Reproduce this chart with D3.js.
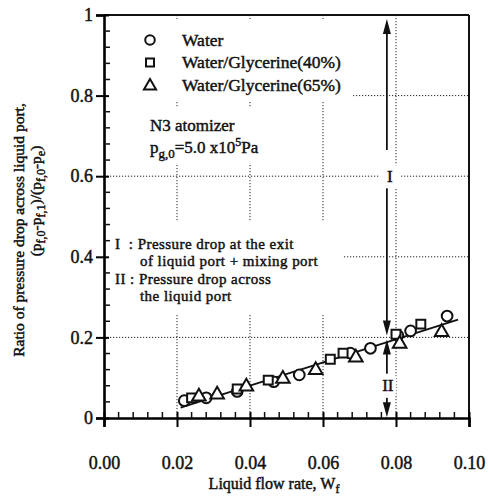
<!DOCTYPE html>
<html>
<head>
<meta charset="utf-8">
<script src="https://cdn.jsdelivr.net/npm/d3@7"></script>
<style>
  body { margin: 0; background: #fff; }
  svg text { font-family: "Liberation Serif", "Times New Roman", serif; fill: #111; stroke: #111; stroke-width: 0.45px; }
</style>
</head>
<body>
<div id="chart"></div>
<script>
// data
const waterX = [0.022, 0.028, 0.0365, 0.0465, 0.0535, 0.0675, 0.073, 0.0805, 0.084, 0.094];
const waterY = [0.043, 0.050, 0.066, 0.090, 0.107, 0.161, 0.173, 0.205, 0.216, 0.253];
const gly40X = [0.024, 0.0365, 0.045, 0.062, 0.0655, 0.080, 0.0868];
const gly40Y = [0.050, 0.072, 0.094, 0.146, 0.161, 0.208, 0.233];
const gly65X = [0.026, 0.031, 0.039, 0.049, 0.058, 0.069, 0.081, 0.0925];
const gly65Y = [0.053, 0.058, 0.078, 0.097, 0.119, 0.150, 0.184, 0.213];
const fitX = [0.021, 0.097];
const fitY = [0.026, 0.244];

const xTicks = [0, 0.02, 0.04, 0.06, 0.08, 0.10];
const xTickLabels = ["0.00", "0.02", "0.04", "0.06", "0.08", "0.10"];
const yTicks = [0, 0.2, 0.4, 0.6, 0.8, 1];
const yTickLabels = ["0", "0.2", "0.4", "0.6", "0.8", "1"];
const seriesNames = ["Water", "Water/Glycerine(40%)", "Water/Glycerine(65%)"];

const arrowX = 0.0775;

const W = 488, H = 498;
const svg = d3.select("#chart").append("svg").attr("width", W).attr("height", H);

const x = d3.scaleLinear().domain([0, 0.1]).range([104, 469]);
const y = d3.scaleLinear().domain([0, 1]).range([418, 15]);

// dotted grid
const grid = svg.append("g").attr("stroke", "#222").attr("stroke-width", 1).attr("stroke-dasharray", "1.2,1.8");
grid.selectAll("line.v").data(xTicks.slice(1, -1)).join("line")
    .attr("x1", d => x(d)).attr("x2", d => x(d)).attr("y1", y(1)).attr("y2", y(0));
grid.selectAll("line.h").data(yTicks.slice(1, -1)).join("line")
    .attr("x1", x(0)).attr("x2", x(0.1)).attr("y1", d => y(d)).attr("y2", d => y(d));

const notes = svg.append("g");

// text block with a white patch under it that hides the grid
function block(lines, pad) {
    const g = notes.append("g");
    const t = g.append("g");
    lines(t);
    const b = t.node().getBBox();
    g.insert("rect", ":first-child")
        .attr("x", b.x - pad[3]).attr("y", b.y - pad[0])
        .attr("width", b.width + pad[1] + pad[3]).attr("height", b.height + pad[0] + pad[2])
        .attr("fill", "#fff");
    return g;
}

const symSize = { circle: 90, square: 80, triangle: 80 };
const symType = { circle: d3.symbolCircle, square: d3.symbolSquare, triangle: d3.symbolTriangle };
const kinds = ["circle", "square", "triangle"];

// legend
block(t => {
    seriesNames.forEach((name, i) => {
        const cy = 40 + i * 22.5;
        t.append("path")
            .attr("d", d3.symbol(symType[kinds[i]], symSize[kinds[i]] * 0.8)())
            .attr("transform", `translate(150,${cy + (i === 2 ? 1 : 0)})`)
            .attr("fill", "#fff").attr("stroke", "#111").attr("stroke-width", 2);
        t.append("text").attr("x", 182).attr("y", cy + 5.5)
            .attr("font-size", 17.5).text(name);
    });
}, [10, 12, 6, 46]);

// atomizer conditions
block(t => {
    t.append("text").attr("x", 150).attr("y", 131).attr("font-size", 17).text("N3 atomizer");
    const p = t.append("text").attr("x", 150).attr("y", 153).attr("font-size", 17);
    p.append("tspan").text("p");
    p.append("tspan").attr("font-size", 13).attr("dy", 5).text("g,0");
    p.append("tspan").attr("dy", -5).text("=5.0 x10");
    p.append("tspan").attr("font-size", 12).attr("dy", -7).text("5");
    p.append("tspan").attr("dy", 7).text("Pa");
}, [8, 4, 2, 4]);

// explanation of I and II
block(t => {
    const rows = [
        [115, 248.5, "I  : Pressure drop at the exit"],
        [140, 266, "of liquid port + mixing port"],
        [115, 283.5, "II : Pressure drop across"],
        [140, 301, "the liquid port"]
    ];
    rows.forEach(r => t.append("text").attr("x", r[0]).attr("y", r[1])
        .attr("font-size", 15).attr("letter-spacing", 0.45)
        .attr("xml:space", "preserve").text(r[2]));
}, [14, 24, 10, 10]);

// labels on the arrows
block(t => {
    t.append("text").attr("x", x(arrowX) + 3).attr("y", y(0.6) + 6).attr("text-anchor", "middle")
        .attr("font-size", 17).text("I");
}, [2, 8, 2, 8]);
block(t => {
    t.append("text").attr("x", x(arrowX) + 1).attr("y", y(0.068)).attr("text-anchor", "middle")
        .attr("font-size", 17).text("II");
}, [0, 2, 0, 2]);

// fitted line
svg.append("line")
    .attr("x1", x(fitX[0])).attr("y1", y(fitY[0]))
    .attr("x2", x(fitX[1])).attr("y2", y(fitY[1]))
    .attr("stroke", "#111").attr("stroke-width", 1.8);

// arrows
const arrows = [
    [0.665, 0.99], [0.57, 0.205], [0.11, 0.195], [0.05, 0.002]
];
const ag = svg.append("g");
arrows.forEach(a => {
    const x0 = x(arrowX), ya = y(a[0]), yb = y(a[1]);
    const dir = yb < ya ? -1 : 1;
    ag.append("line").attr("x1", x0).attr("x2", x0).attr("y1", ya).attr("y2", yb - dir * 10)
        .attr("stroke", "#111").attr("stroke-width", 1.8);
    ag.append("path")
        .attr("d", `M${x0},${yb} L${x0 - 4},${yb - dir * 15} L${x0 + 4},${yb - dir * 15} Z`)
        .attr("fill", "#111");
});

// markers
const series = [
    { kind: "circle", xs: waterX, ys: waterY },
    { kind: "square", xs: gly40X, ys: gly40Y },
    { kind: "triangle", xs: gly65X, ys: gly65Y }
];
series.forEach(s => {
    svg.append("g").selectAll("path")
        .data(s.xs.map((v, i) => [v, s.ys[i]]))
        .join("path")
        .attr("d", d3.symbol(symType[s.kind], symSize[s.kind])())
        .attr("transform", d => `translate(${x(d[0])},${y(d[1])})`)
        .attr("fill", "#fff").attr("stroke", "#111").attr("stroke-width", 2);
});

// axes and frame
const frame = svg.append("g").attr("stroke", "#111");
frame.append("line").attr("x1", x(0)).attr("x2", x(0.1)).attr("y1", y(1)).attr("y2", y(1)).attr("stroke-width", 2);
frame.append("line").attr("x1", x(0.1)).attr("x2", x(0.1)).attr("y1", y(1)).attr("y2", y(0)).attr("stroke-width", 2);

const xMinor = d3.range(0, 0.1001, 0.004).filter(v => Math.abs(v / 0.02 - Math.round(v / 0.02)) > 1e-6);
const yMinor = d3.range(0, 1.0001, 0.04).filter(v => Math.abs(v / 0.2 - Math.round(v / 0.2)) > 1e-6);

const xAxis = svg.append("g").attr("transform", `translate(0,${y(0)})`)
    .call(d3.axisBottom(x).tickValues(xTicks).tickSize(9).tickFormat((d, i) => xTickLabels[i]));
xAxis.select(".domain").attr("stroke-width", 2.6);
xAxis.selectAll(".tick line").attr("y1", -6).attr("stroke-width", 2);
xAxis.selectAll(".tick text").attr("y", 38).attr("font-size", 18);
xAxis.append("g").selectAll("line").data(xMinor).join("line")
    .attr("x1", d => x(d)).attr("x2", d => x(d)).attr("y1", 0).attr("y2", -6)
    .attr("stroke", "#111").attr("stroke-width", 1.5);

const yAxis = svg.append("g").attr("transform", `translate(${x(0)},0)`)
    .call(d3.axisLeft(y).tickValues(yTicks).tickSize(8).tickFormat((d, i) => yTickLabels[i]));
yAxis.select(".domain").attr("stroke-width", 2.6);
yAxis.selectAll(".tick line").attr("x1", 5).attr("stroke-width", 2);
yAxis.selectAll(".tick text").attr("x", -11).attr("font-size", 18);
yAxis.append("g").selectAll("line").data(yMinor).join("line")
    .attr("x1", 0).attr("x2", 6).attr("y1", d => y(d)).attr("y2", d => y(d))
    .attr("stroke", "#111").attr("stroke-width", 1.5);

// axis titles
const xl = svg.append("text").attr("x", 274).attr("y", 489).attr("text-anchor", "middle")
    .attr("font-size", 16);
xl.append("tspan").text("Liquid flow rate, W");
xl.append("tspan").attr("font-size", 12).attr("dy", 4).text("f");

svg.append("text").attr("transform", "translate(24,230) rotate(-90)").attr("text-anchor", "middle")
    .attr("font-size", 15.5).text("Ratio of pressure drop across liquid port,");
const yl2 = svg.append("text").attr("transform", "translate(41,201) rotate(-90)").attr("text-anchor", "middle")
    .attr("font-size", 15.5);
yl2.append("tspan").text("(p");
yl2.append("tspan").attr("font-size", 12).attr("dy", 4).text("f,0");
yl2.append("tspan").attr("dy", -4).text("-p");
yl2.append("tspan").attr("font-size", 12).attr("dy", 4).text("f,1");
yl2.append("tspan").attr("dy", -4).text(")/(p");
yl2.append("tspan").attr("font-size", 12).attr("dy", 4).text("f,0");
yl2.append("tspan").attr("dy", -4).text("-p");
yl2.append("tspan").attr("font-size", 12).attr("dy", 4).text("e");
yl2.append("tspan").attr("dy", -4).text(")");
</script>
</body>
</html>
